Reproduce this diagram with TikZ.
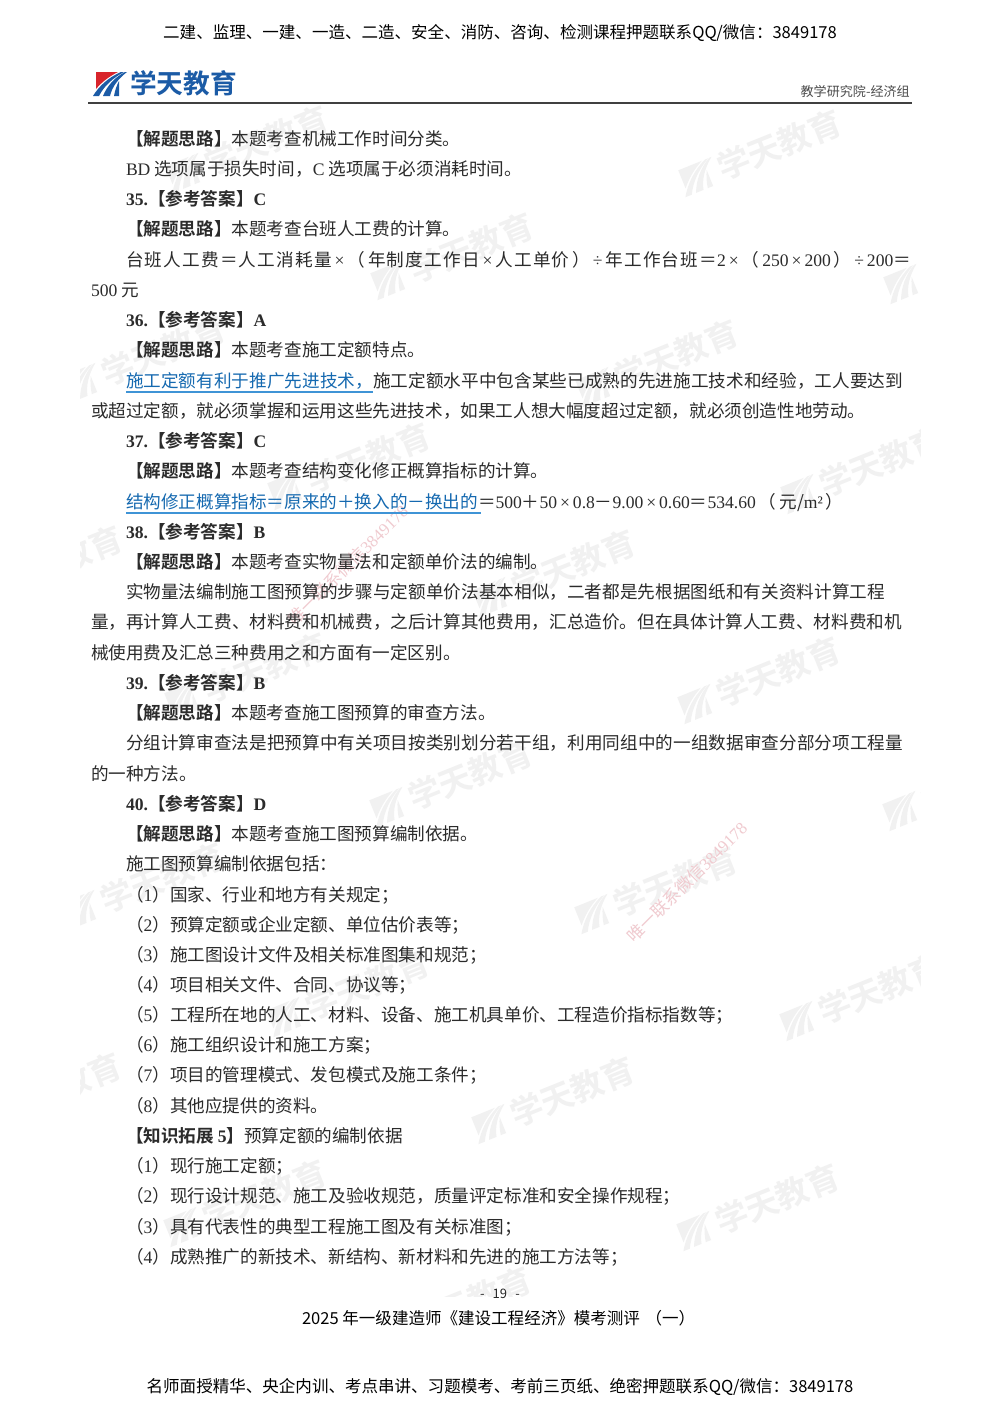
\documentclass[tikz,border=0pt]{standalone}
\usepackage{fontspec}
\setmainfont{Noto Sans CJK SC}[BoldFont={Noto Sans CJK SC Bold}]
\newfontfamily\latf{Liberation Serif}
\definecolor{bodyc}{HTML}{2B2B2B}
\definecolor{linkc}{HTML}{1569B0}
\definecolor{linkr}{HTML}{3F94D6}
\definecolor{wmc}{HTML}{F1F1F1}
\definecolor{pinkc}{HTML}{F0CBD0}
\definecolor{logob}{HTML}{1B5BA6}
\definecolor{logor}{HTML}{D8242B}
\newcounter{tn}
\newcommand{\la}[1]{{\latf #1}}
\newlength{\pxl}\setlength{\pxl}{0.75pt}
\tikzset{
  x=0.75pt,y=-0.75pt,
  txt/.style={anchor=base west,inner sep=0pt,outer sep=0pt,text=bodyc,font=\fontsize{13.2pt}{15pt}\selectfont},
  hdr/.style={anchor=base,inner sep=0pt,outer sep=0pt,text=black,font=\fontsize{12.4pt}{15pt}\selectfont},
  wmtext/.style={anchor=west,inner sep=0pt,text=wmc,font=\fontsize{24.5pt}{26pt}\selectfont\bfseries,rotate=22},
  pinktext/.style={inner sep=0pt,text=pinkc,font=\fontsize{12.7pt}{15pt}\selectfont,rotate=45},
  ulin/.style={draw=linkr,line width=1.7pt}
}
% plain line at left x, baseline y
\newcommand{\tl}[3]{\stepcounter{tn}\node[txt] (t\arabic{tn}) at (#1,#2) {#3};}
% justified line: x, baseline y, width in px, text
\newcommand{\jl}[4]{\stepcounter{tn}\node[txt] (t\arabic{tn}) at (#1,#2) {\parbox[b]{#3\pxl}{\parindent=0pt\parfillskip=0pt\tolerance=10000\hbadness=10000\XeTeXlinebreaklocale "zh"\XeTeXlinebreakskip=0pt plus 3pt minus 1pt\relax #4\par}};}
\newcommand{\jt}{\textbf{【解题思路】}}
\newcommand{\ck}[3]{\tl{126}{#1}{\bfseries\la{#2}【参考答案】\la{#3}}}
\newcommand{\logoshape}[2]{%
  \fill[#1] (3,0) -- (25,0) .. controls (15,5) and (8,11) .. (3,17) -- cycle;
  \fill[#2] (0,24) -- (6,24) .. controls (11,14) and (20,6) .. (31,0) -- (28,0) .. controls (16,5) and (6,14) .. (0,24) -- cycle;
  \fill[#2] (10,24) -- (17,24) .. controls (19,15) and (25,7) .. (34,0) -- (32,0) .. controls (22,5) and (14,14) .. (10,24) -- cycle;
  \fill[#2] (21,24) -- (26,24) -- (26,9) .. controls (24,13) and (22,18) .. (21,24) -- cycle;
}
\newcommand{\wm}[2]{%
  \begin{scope}[shift={(#1,#2)},rotate=22]
    \begin{scope}[shift={(-87,-14)},scale=1.15]\logoshape{wmc}{wmc}\end{scope}
    \stepcounter{tn}\node[wmtext] (w\arabic{tn}) at (-46,0) {学天教育};
  \end{scope}}
\begin{document}
\begin{tikzpicture}
\useasboundingbox (0,0) rectangle (1000,1414);
\fill[white] (0,0) rectangle (1000,1414);
% watermarks
\begin{scope}
\clip (80,104) rectangle (920,1296);
\wm{761}{152}\wm{966}{259}
\wm{248}{148}\wm{453}{255}\wm{658}{362}\wm{863}{469}
\wm{145}{358}\wm{350}{465}\wm{555}{572}\wm{760}{679}\wm{965}{786}
\wm{42}{568}\wm{247}{675}\wm{452}{782}\wm{657}{889}\wm{862}{996}
\wm{144}{885}\wm{349}{992}\wm{554}{1099}\wm{759}{1206}
\wm{41}{1095}\wm{246}{1202}\wm{451}{1309}
\end{scope}
\node[pinktext] (pink1) at (348,565) {唯一联系微信\la{3849178}};
\node[pinktext] (pink2) at (687,882) {唯一联系微信\la{3849178}};
% header
\node[hdr] (head) at (500,38) {二建、监理、一建、一造、二造、安全、消防、咨询、检测课程押题联系QQ/微信：3849178};
\begin{scope}[shift={(93,72)}]\logoshape{logor}{logob}\end{scope}
\node[anchor=base west,inner sep=0pt,text=logob,font=\fontsize{20pt}{22pt}\selectfont\bfseries] (brand) at (130,93) {学天教育};
\node[anchor=base east,inner sep=0pt,text=black!70,font=\fontsize{9.8pt}{12pt}\selectfont] (dept) at (910,96) {教学研究院-经济组};
\coordinate (ruleL) at (88,102.5);\coordinate (ruleR) at (912,102.5);
\draw[line width=1.5pt,black!75] (ruleL) -- (ruleR);
% body
\tl{126}{145}{\jt 本题考查机械工作时间分类。}
\tl{126}{175}{\la{BD} 选项属于损失时间，\la{C} 选项属于必须消耗时间。}
\ck{205.5}{35.}{C}
\tl{126}{235.5}{\jt 本题考查台班人工费的计算。}
\jl{126}{266}{785}{台班人工费＝人工消耗量\,\la{×}\,（\,年制度工作日\,\la{×}\,人工单价\,）\,\la{÷}\,年工作台班＝\la{2}\,\la{×}\,（\,\la{250}\,\la{×}\,\la{200}\,）\,\la{÷}\,\la{200}＝}
\tl{91}{296}{\la{500} 元}
\ck{326}{36.}{A}
\tl{126}{356.5}{\jt 本题考查施工定额特点。}
\jl{126}{387}{777}{\textcolor{linkc}{施工定额有利于推广先进技术，}施工定额水平中包含某些已成熟的先进施工技术和经验，工人要达到}
\coordinate (u1a) at (126,392);\coordinate (u1b) at (373,392);
\draw[ulin] (u1a) -- (u1b);
\tl{91}{417}{或超过定额，就必须掌握和运用这些先进技术，如果工人想大幅度超过定额，就必须创造性地劳动。}
\ck{447}{37.}{C}
\tl{126}{477}{\jt 本题考查结构变化修正概算指标的计算。}
\tl{126}{508}{\textcolor{linkc}{结构修正概算指标＝原来的＋换入的－换出的}＝\la{500}＋\la{50\,×\,0.8}－\la{9.00\,×\,0.60}＝\la{534.60}\,（\,元/\la{m²}\,）}
\coordinate (u2a) at (126,513);\coordinate (u2b) at (481,513);
\draw[ulin] (u2a) -- (u2b);
\ck{538}{38.}{B}
\tl{126}{568}{\jt 本题考查实物量法和定额单价法的编制。}
\jl{126}{598}{759}{实物量法编制施工图预算的步骤与定额单价法基本相似，二者都是先根据图纸和有关资料计算工程}
\jl{91}{628.5}{811}{量，再计算人工费、材料费和机械费，之后计算其他费用，汇总造价。但在具体计算人工费、材料费和机}
\tl{91}{659}{械使用费及汇总三种费用之和方面有一定区别。}
\ck{689}{39.}{B}
\tl{126}{719}{\jt 本题考查施工图预算的审查方法。}
\jl{126}{749}{777}{分组计算审查法是把预算中有关项目按类别划分若干组，利用同组中的一组数据审查分部分项工程量}
\tl{91}{780}{的一种方法。}
\ck{810}{40.}{D}
\tl{126}{840}{\jt 本题考查施工图预算编制依据。}
\tl{126}{870}{施工图预算编制依据包括：}
\tl{126}{901}{（\la{1}）国家、行业和地方有关规定；}
\tl{126}{931}{（\la{2}）预算定额或企业定额、单位估价表等；}
\tl{126}{961}{（\la{3}）施工图设计文件及相关标准图集和规范；}
\tl{126}{991}{（\la{4}）项目相关文件、合同、协议等；}
\tl{126}{1021}{（\la{5}）工程所在地的人工、材料、设备、施工机具单价、工程造价指标指数等；}
\tl{126}{1051.5}{（\la{6}）施工组织设计和施工方案；}
\tl{126}{1081.5}{（\la{7}）项目的管理模式、发包模式及施工条件；}
\tl{126}{1112}{（\la{8}）其他应提供的资料。}
\tl{126}{1142}{\textbf{【知识拓展 \la{5}】}预算定额的编制依据}
\tl{126}{1172}{（\la{1}）现行施工定额；}
\tl{126}{1202.5}{（\la{2}）现行设计规范、施工及验收规范，质量评定标准和安全操作规程；}
\tl{126}{1233}{（\la{3}）具有代表性的典型工程施工图及有关标准图；}
\tl{126}{1263}{（\la{4}）成熟推广的新技术、新结构、新材料和先进的施工方法等；}
% footer
\node[anchor=base,inner sep=0pt,text=black!85,font=\fontsize{9.8pt}{12pt}\selectfont] (pageno) at (500,1298) {-\ \ \,19\ \ \,-};
\node[hdr,anchor=base west] (foot1) at (302,1324) {2025 年一级建造师《建设工程经济》模考测评\,\,（一）};
\node[hdr] (foot2) at (500,1392) {名师面授精华、央企内训、考点串讲、习题模考、考前三页纸、绝密押题联系QQ/微信：3849178};
\end{tikzpicture}
\end{document}
